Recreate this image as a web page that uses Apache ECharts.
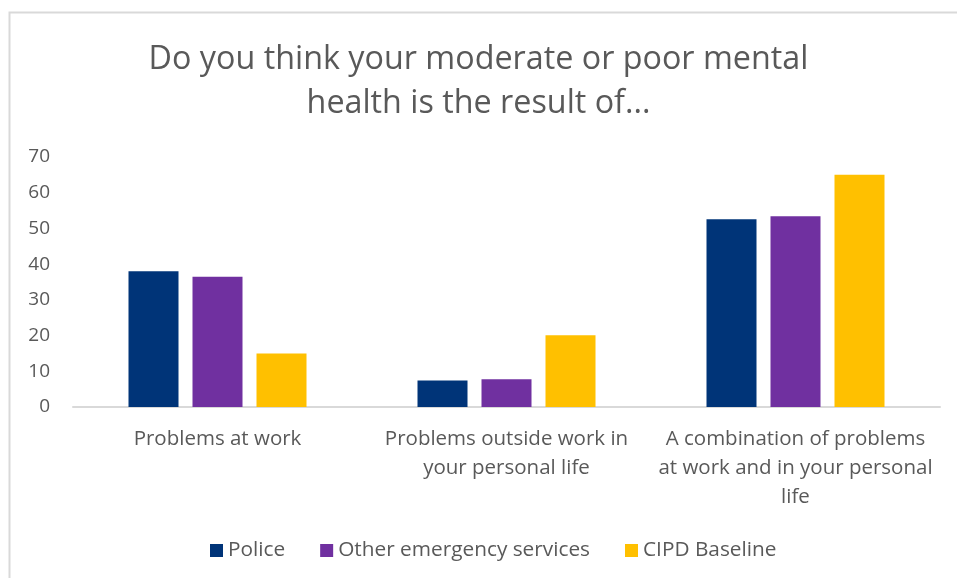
<!DOCTYPE html>
<html>
<head>
<meta charset="utf-8">
<script src="https://cdn.jsdelivr.net/npm/echarts@6/dist/echarts.min.js"></script>
<style>html,body{margin:0;padding:0;background:#fff}#c{width:957px;height:578px}</style>
</head>
<body>
<div id="c"></div>
<script>
const titleText = "Do you think your moderate or poor mental\nhealth is the result of...";
const categories = ["Problems at work", "Problems outside work in\nyour personal life", "A combination of problems\nat work and in your personal\nlife"];
const seriesNames = ["Police", "Other emergency services", "CIPD Baseline"];
const police = [38, 7.4, 52.6];
const otherEmergency = [36.5, 7.8, 53.4];
const cipdBaseline = [15, 20.1, 65];
const colors = ["#003478", "#7030A0", "#FFC000"];
const yTicks = {min: 0, max: 70, interval: 10};

const font = "'Open Sans', 'Noto Sans', sans-serif";
const chart = echarts.init(document.getElementById('c'), null, {renderer: 'canvas'});
const values = [police, otherEmergency, cipdBaseline];
chart.setOption({
  animation: false,
  backgroundColor: '#fff',
  title: {
    text: titleText, left: 'center', top: 33,
    textStyle: {fontFamily: font, fontSize: 32.3, fontWeight: 'normal', color: '#595959', lineHeight: 44}
  },
  graphic: [{type: 'rect', shape: {x: 9.5, y: 12.5, width: 1200, height: 1200}, style: {fill: 'none', stroke: '#d9d9d9', lineWidth: 2}, silent: true}],
  legend: {
    data: seriesNames, bottom: 12, left: 205, itemWidth: 13, itemHeight: 13, itemGap: 35,
    icon: 'rect',
    textStyle: {fontFamily: font, fontSize: 20.8, color: '#595959'}
  },
  grid: {left: 73, right: 17, top: 157, bottom: 171, containLabel: false},
  xAxis: {
    type: 'category', data: categories,
    axisLine: {lineStyle: {color: '#d9d9d9', width: 2}},
    axisTick: {show: false},
    axisLabel: {fontFamily: font, fontSize: 20.5, color: '#595959', lineHeight: 29, margin: 18, interval: 0}
  },
  yAxis: {
    type: 'value', min: yTicks.min, max: yTicks.max, interval: yTicks.interval,
    splitLine: {show: false}, axisLine: {show: false}, axisTick: {show: false},
    axisLabel: {fontFamily: font, fontSize: 19, color: '#595959', margin: 23}
  },
  series: seriesNames.map((n, i) => ({
    name: n, type: 'bar', data: values[i], barWidth: 50, barGap: '28%',
    itemStyle: {color: colors[i]}
  }))
});
</script>
</body>
</html>
